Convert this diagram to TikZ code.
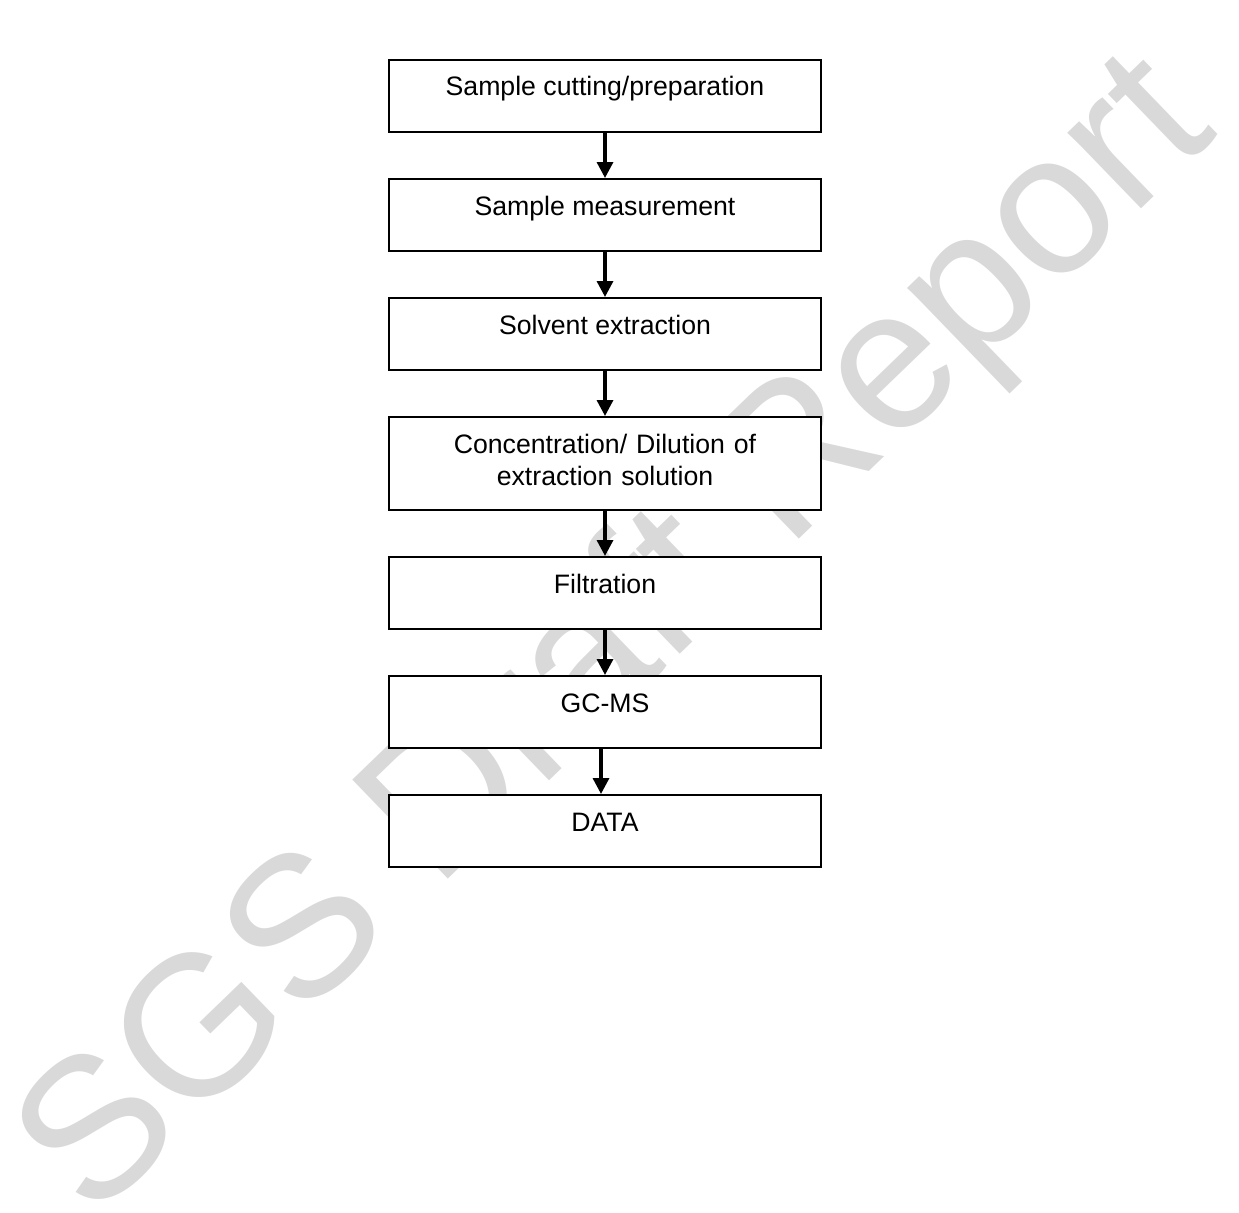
\documentclass[tikz,border=0pt]{standalone}
\usepackage{fontspec}
\setmainfont{Liberation Sans}
\usepackage{tikz}
\usetikzlibrary{positioning,arrows.meta}

\begin{document}
\begin{tikzpicture}[x=0.75pt, y=-0.75pt,
  stepbox/.style={draw, line width=1.5pt, fill=white, minimum width=324pt,
    inner sep=0pt, text height=27pt, text depth=27pt,
    font=\fontsize{20}{24}\selectfont},
  flow/.style={line width=2.5pt, -{Triangle[width=12pt,length=12pt]}},
  node distance=33.75pt]
  \useasboundingbox (0,0) rectangle (1239,1213);

  % Draw the watermark behind the boxes
  \node[rotate=44, anchor=base, text=gray!30, font=\fontsize{150}{150}\selectfont]
    (mark) at (656,678) {SGS Draft Report};

  % Draw the process steps
  \node[stepbox, anchor=north] (cut) at (605,59) {Sample cutting/preparation};
  \node[stepbox, below=of cut] (meas) {Sample measurement};
  \node[stepbox, below=of meas] (solv) {Solvent extraction};
  \node[stepbox, below=of solv, text width=324pt, align=center, text depth=42.75pt]
    (conc) {Concentration/ Dilution of\\extraction solution};
  \node[stepbox, below=of conc] (filt) {Filtration};
  \node[stepbox, below=of filt] (gcms) {GC-MS};
  \node[stepbox, below=of gcms] (data) {DATA};

  % Arrows between the steps
  \draw[flow] (cut) -- (meas);
  \draw[flow] (meas) -- (solv);
  \draw[flow] (solv) -- (conc);
  \draw[flow] (conc) -- (filt);
  \draw[flow] (filt) -- (gcms);
  \draw[flow] ([xshift=-3pt]gcms.south) -- ([xshift=-3pt]data.north);
\end{tikzpicture}
\end{document}
